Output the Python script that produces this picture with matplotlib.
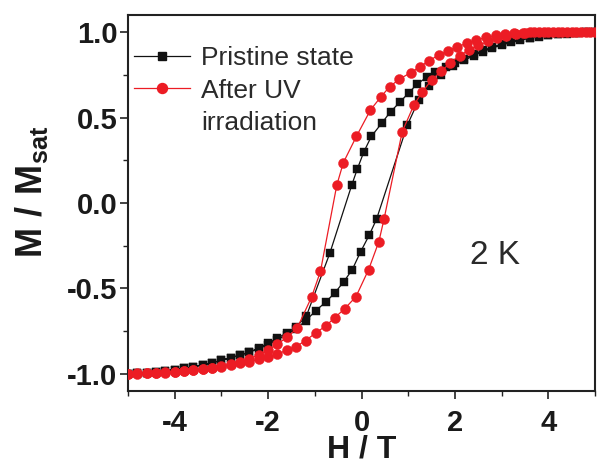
import matplotlib
matplotlib.use("Agg")
import matplotlib.pyplot as plt
from matplotlib.lines import Line2D
from matplotlib.ticker import MultipleLocator, FormatStrFormatter

plt.rcParams["font.family"] = ["Liberation Sans", "DejaVu Sans"]
plt.rcParams["mathtext.fontset"] = "custom"
plt.rcParams["mathtext.rm"] = "Liberation Sans"
plt.rcParams["mathtext.bf"] = "Liberation Sans:bold"
plt.rcParams["axes.unicode_minus"] = False

# Pristine state: field sweep from +5 T down to -5 T
pristine_down_H = [5.0, 4.8, 4.6, 4.4, 4.2, 4.0, 3.8, 3.6, 3.4, 3.2, 3.0, 2.8, 2.6, 2.4, 2.2, 2.0, 1.8,
                   1.58, 1.39, 1.19, 1.01, 0.82, 0.62, 0.44, 0.21, 0.05, -0.09, -0.21,
                   -0.68, -1.18,
                   -1.4, -1.6, -1.8, -2.0, -2.2, -2.4, -2.6, -2.8, -3.0, -3.2, -3.4, -3.6, -3.8,
                   -4.0, -4.2, -4.4, -4.6, -4.8, -5.0]
pristine_down_M = [1.0, 0.998, 0.996, 0.992, 0.988, 0.982, 0.975, 0.967, 0.957, 0.945, 0.93, 0.912,
                   0.893, 0.87, 0.845, 0.82, 0.795,
                   0.767, 0.735, 0.696, 0.645, 0.59, 0.534, 0.47, 0.39, 0.30, 0.20, 0.105,
                   -0.294, -0.66,
                   -0.725, -0.76, -0.79, -0.82, -0.848, -0.872, -0.89, -0.905, -0.92, -0.935,
                   -0.947, -0.958, -0.967, -0.975, -0.982, -0.988, -0.993, -0.997, -1.0]

# Pristine state: field sweep from -5 T back up to +5 T
pristine_up_H = [-5.0, -4.8, -4.6, -4.4, -4.2, -4.0, -3.8, -3.6, -3.4, -3.2, -3.0, -2.8, -2.6, -2.4,
                 -2.2, -2.0, -1.8, -1.6, -1.4, -1.2,
                 -0.98, -0.77, -0.57, -0.38, -0.20, -0.02, 0.16, 0.32,
                 0.98, 1.22, 1.45, 1.7, 1.95,
                 2.2, 2.4, 2.6, 2.8, 3.0, 3.2, 3.4, 3.6, 3.8, 4.0, 4.2, 4.4, 4.6, 4.8, 5.0]
pristine_up_M = [-1.0, -0.997, -0.993, -0.988, -0.982, -0.975, -0.967, -0.958, -0.947, -0.935,
                 -0.92, -0.905, -0.89, -0.872, -0.853, -0.828, -0.80, -0.77, -0.735, -0.69,
                 -0.63, -0.58, -0.525, -0.46, -0.39, -0.285, -0.19, -0.095,
                 0.456, 0.60, 0.685, 0.75, 0.80,
                 0.835, 0.862, 0.886, 0.906, 0.925, 0.94, 0.953, 0.964, 0.972, 0.98, 0.986,
                 0.991, 0.995, 0.998, 1.0]

# After UV irradiation: field sweep from +5 T down to -5 T
uv_down_H = [5.0, 4.8, 4.6, 4.4, 4.2, 4.0, 3.8, 3.6, 3.45, 3.26, 3.06, 2.87, 2.66, 2.46, 2.25, 2.05,
             1.85, 1.65, 1.44, 1.25, 1.05, 0.81, 0.60, 0.41, 0.19, -0.11, -0.39, -0.53,
             -0.88, -1.07, -1.38, -1.59, -1.80,
             -2.0, -2.2, -2.4, -2.6, -2.8, -3.0, -3.2, -3.4, -3.6, -3.8, -4.0, -4.2, -4.4, -4.6,
             -4.8, -5.0]
uv_down_M = [1.0, 1.0, 1.0, 1.0, 1.0, 1.0, 0.999, 0.998, 0.997, 0.994, 0.988, 0.981, 0.969, 0.953,
             0.934, 0.914, 0.89, 0.865, 0.832, 0.797, 0.762, 0.725, 0.68, 0.62, 0.544, 0.39,
             0.236, 0.105,
             -0.40, -0.55, -0.733, -0.785, -0.825,
             -0.86, -0.888, -0.91, -0.928, -0.943, -0.955, -0.965, -0.973, -0.979, -0.985,
             -0.989, -0.992, -0.995, -0.997, -0.999, -1.0]

# After UV irradiation: field sweep from -5 T back up to +5 T
uv_up_H = [-5.0, -4.8, -4.6, -4.4, -4.2, -4.0, -3.8, -3.6, -3.4, -3.2, -3.0, -2.8, -2.6, -2.4,
           -2.2, -2.0, -1.8, -1.6, -1.4, -1.2,
           -0.97, -0.77, -0.57, -0.36, -0.12, 0.15, 0.37, 0.48,
           0.87, 1.12, 1.30,
           1.5, 1.7, 1.9, 2.1, 2.3, 2.5, 2.7, 2.9, 3.1, 3.3, 3.5, 3.7, 3.9, 4.1, 4.3, 4.5, 4.7, 4.9]
uv_up_M = [-0.999, -0.997, -0.995, -0.992, -0.99, -0.986, -0.982, -0.977, -0.971, -0.963,
           -0.957, -0.947, -0.937, -0.928, -0.914, -0.899, -0.885, -0.86, -0.84, -0.805,
           -0.758, -0.72, -0.67, -0.618, -0.548, -0.39, -0.226, -0.095,
           0.417, 0.573, 0.65,
           0.72, 0.77, 0.82, 0.862, 0.895, 0.922, 0.945, 0.963, 0.977, 0.987, 0.994, 0.998,
           1.0, 1.0, 1.0, 1.0, 1.0, 1.0]

labels = ["Pristine state", "After UV", "irradiation"]
temperature_label = "2 K"

black = "#111111"
red = "#ec1c24"
sq_ms = 5.8
ci_ms = 7.2

fig = plt.figure(figsize=(5.97, 4.68), dpi=100)
ax = fig.add_axes([0.2144, 0.1645, 0.7825, 0.8035])

ax.plot(pristine_down_H + pristine_up_H, pristine_down_M + pristine_up_M,
        color=black, lw=0.9, marker="s", ms=sq_ms, mec=black, mfc=black, mew=0.3, zorder=3)
ax.plot(uv_down_H + uv_up_H, uv_down_M + uv_up_M,
        color=red, lw=0.9, marker="o", ms=ci_ms, mec=red, mfc=red, mew=0.3, zorder=4)

ax.set_xlim(-5, 5)
ax.set_ylim(-1.1, 1.1)
ax.xaxis.set_major_locator(MultipleLocator(2))
ax.xaxis.set_minor_locator(MultipleLocator(1))
ax.yaxis.set_major_locator(MultipleLocator(0.5))
ax.yaxis.set_minor_locator(MultipleLocator(0.25))
ax.yaxis.set_major_formatter(FormatStrFormatter("%.1f"))

for s in ax.spines.values():
    s.set_linewidth(1.5)
    s.set_color("#222222")
ax.tick_params(which="major", direction="out", length=6, width=1.2, colors="#222222",
               labelsize=21, top=False, right=False)
ax.tick_params(which="minor", direction="out", length=3.5, width=1.0, colors="#222222",
               top=False, right=False)
ax.tick_params(axis="y", pad=1.5)
ax.tick_params(axis="x", pad=7)
for t in ax.get_xticklabels() + ax.get_yticklabels():
    t.set_fontweight("bold")
    t.set_color("#1a1a1a")

ax.set_xlabel("H / T", fontsize=23, fontweight="bold", color="#1a1a1a")
ax.set_ylabel(r"$\mathbf{M\ /\ M_{sat}}$", fontsize=26, color="#1a1a1a")
ax.xaxis.set_label_coords(0.5, -0.116)
ax.yaxis.set_label_coords(-0.167, 0.53)

handles = [
    Line2D([], [], color=black, lw=0.9, marker="s", ms=sq_ms, mec=black, mfc=black),
    Line2D([], [], color=red, lw=0.9, marker="o", ms=ci_ms, mec=red, mfc=red),
    Line2D([], [], color="none", lw=0, marker=None),
]
leg = ax.legend(handles, labels, loc="upper left", bbox_to_anchor=(0.012, 0.918),
                frameon=False, fontsize=19, handlelength=2.15, handletextpad=0.42,
                labelspacing=0.33, borderpad=0, borderaxespad=0)
for t in leg.get_texts():
    t.set_color("#2a2a2a")

ax.text(2.85, -0.31, temperature_label, fontsize=24, color="#2a2a2a",
        ha="center", va="center")

fig.savefig("out.png", dpi=100)
